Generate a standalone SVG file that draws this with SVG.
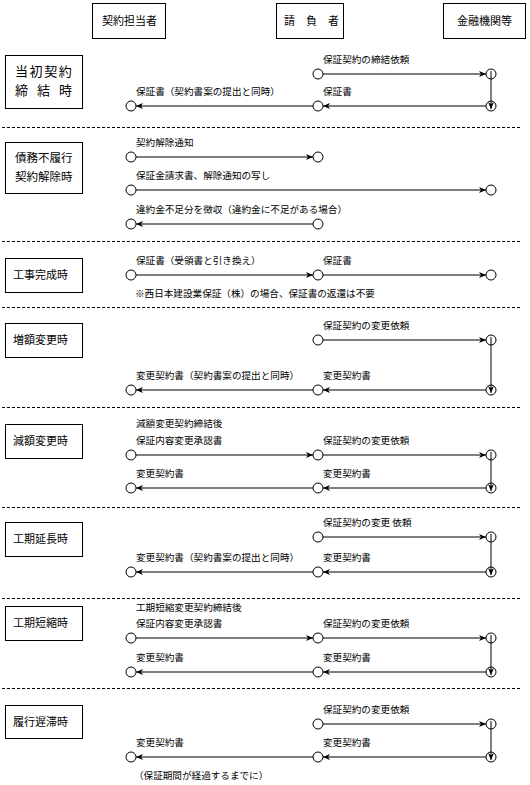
<svg xmlns="http://www.w3.org/2000/svg" width="530" height="785" viewBox="0 0 530 785">
<style>
text{font-family:"Noto Sans CJK JP","Noto Sans CJK SC",sans-serif;fill:#000}
.lb{font-size:9.6px}
.hd{font-size:11px}
.bx{fill:#fff;stroke:#000;stroke-width:1}
.pt{fill:#fff;stroke:#000;stroke-width:1}
.ar{stroke:#000;stroke-width:1;fill:none;marker-end:url(#ah)}
.dv{stroke:#000;stroke-width:1;stroke-dasharray:3 2}
</style>
<defs>
<marker id="ah" viewBox="0 0 7 6" refX="7" refY="3" markerWidth="7" markerHeight="6" orient="auto" markerUnits="userSpaceOnUse">
<path d="M0,0 L7,3 L0,6 L2,3 Z" fill="#000"/>
</marker>
</defs>
<rect width="530" height="785" fill="#fff"/>

<g id="dividers">
<line class="dv" x1="2" y1="127.5" x2="522" y2="127.5"/>
<line class="dv" x1="2" y1="241.5" x2="522" y2="241.5"/>
<line class="dv" x1="2" y1="307.5" x2="522" y2="307.5"/>
<line class="dv" x1="2" y1="407.5" x2="522" y2="407.5"/>
<line class="dv" x1="2" y1="507.5" x2="522" y2="507.5"/>
<line class="dv" x1="2" y1="598.5" x2="522" y2="598.5"/>
<line class="dv" x1="2" y1="688.5" x2="522" y2="688.5"/>
</g>

<g id="hdr-keiyaku"><rect class="bx" x="92.5" y="3.5" width="73" height="35"/><text class="hd" x="102" y="25">契約担当者</text></g>
<g id="hdr-ukeoi"><rect class="bx" x="276.5" y="3.5" width="67" height="35"/><text class="hd" x="284" y="25">請　負　者</text></g>
<g id="hdr-kinyu"><rect class="bx" x="443.5" y="3.5" width="82" height="35"/><text class="hd" x="457" y="25">金融機関等</text></g>

<g id="sec1"><rect class="bx" x="5.5" y="55.5" width="77" height="53"/><text x="15" y="76" font-size="13" letter-spacing="1.6">当初契約</text><text font-size="13" y="95"><tspan x="15">締</tspan><tspan x="37">結</tspan><tspan x="59">時</tspan></text></g>
<g id="sec2"><rect class="bx" x="5.5" y="142.5" width="77" height="51"/><text x="15" y="162" font-size="11.5">債務不履行</text><text x="15" y="181" font-size="11.5">契約解除時</text></g>
<g id="sec3"><rect class="bx" x="5.5" y="258.5" width="77" height="34"/><text class="hd" x="13" y="279">工事完成時</text></g>
<g id="sec4"><rect class="bx" x="5.5" y="323.5" width="77" height="34"/><text class="hd" x="13" y="344">増額変更時</text></g>
<g id="sec5"><rect class="bx" x="5.5" y="424.5" width="77" height="34"/><text class="hd" x="13" y="445">減額変更時</text></g>
<g id="sec6"><rect class="bx" x="5.5" y="522.5" width="77" height="34"/><text class="hd" x="13" y="543">工期延長時</text></g>
<g id="sec7"><rect class="bx" x="5.5" y="606.5" width="77" height="34"/><text class="hd" x="13" y="627">工期短縮時</text></g>
<g id="sec8"><rect class="bx" x="5.5" y="705.5" width="77" height="33"/><text class="hd" x="13" y="726">履行遅滞時</text></g>

<g id="points">
<g id="p1a"><circle class="pt" cx="318" cy="74" r="5"/></g>
<g id="p1b"><circle class="pt" cx="491" cy="74" r="5"/></g>
<g id="p1c"><circle class="pt" cx="131" cy="106" r="5"/></g>
<g id="p1d"><circle class="pt" cx="318" cy="106" r="5"/></g>
<g id="p1e"><circle class="pt" cx="491" cy="106" r="5"/></g>
<g id="p2a"><circle class="pt" cx="131" cy="157" r="5"/></g>
<g id="p2b"><circle class="pt" cx="318" cy="157" r="5"/></g>
<g id="p2c"><circle class="pt" cx="131" cy="190" r="5"/></g>
<g id="p2d"><circle class="pt" cx="491" cy="190" r="5"/></g>
<g id="p2e"><circle class="pt" cx="131" cy="224" r="5"/></g>
<g id="p2f"><circle class="pt" cx="318" cy="224" r="5"/></g>
<g id="p3a"><circle class="pt" cx="131" cy="275" r="5"/></g>
<g id="p3b"><circle class="pt" cx="318" cy="275" r="5"/></g>
<g id="p3c"><circle class="pt" cx="491" cy="275" r="5"/></g>
<g id="p4a"><circle class="pt" cx="318" cy="340" r="5"/></g>
<g id="p4b"><circle class="pt" cx="491" cy="340" r="5"/></g>
<g id="p4c"><circle class="pt" cx="131" cy="390" r="5"/></g>
<g id="p4d"><circle class="pt" cx="318" cy="390" r="5"/></g>
<g id="p4e"><circle class="pt" cx="491" cy="390" r="5"/></g>
<g id="p5a"><circle class="pt" cx="131" cy="455" r="5"/></g>
<g id="p5b"><circle class="pt" cx="318" cy="455" r="5"/></g>
<g id="p5c"><circle class="pt" cx="491" cy="455" r="5"/></g>
<g id="p5d"><circle class="pt" cx="131" cy="488" r="5"/></g>
<g id="p5e"><circle class="pt" cx="318" cy="488" r="5"/></g>
<g id="p5f"><circle class="pt" cx="491" cy="488" r="5"/></g>
<g id="p6a"><circle class="pt" cx="318" cy="537" r="5"/></g>
<g id="p6b"><circle class="pt" cx="491" cy="537" r="5"/></g>
<g id="p6c"><circle class="pt" cx="131" cy="572" r="5"/></g>
<g id="p6d"><circle class="pt" cx="318" cy="572" r="5"/></g>
<g id="p6e"><circle class="pt" cx="491" cy="572" r="5"/></g>
<g id="p7a"><circle class="pt" cx="131" cy="638" r="5"/></g>
<g id="p7b"><circle class="pt" cx="318" cy="638" r="5"/></g>
<g id="p7c"><circle class="pt" cx="491" cy="638" r="5"/></g>
<g id="p7d"><circle class="pt" cx="131" cy="672" r="5"/></g>
<g id="p7e"><circle class="pt" cx="318" cy="672" r="5"/></g>
<g id="p7f"><circle class="pt" cx="491" cy="672" r="5"/></g>
<g id="p8a"><circle class="pt" cx="318" cy="724" r="5"/></g>
<g id="p8b"><circle class="pt" cx="491" cy="724" r="5"/></g>
<g id="p8c"><circle class="pt" cx="131" cy="757" r="5"/></g>
<g id="p8d"><circle class="pt" cx="318" cy="757" r="5"/></g>
<g id="p8e"><circle class="pt" cx="491" cy="757" r="5"/></g>
</g>

<g id="connectors">
<line class="ar" x1="323" y1="74" x2="486" y2="74"/>
<line class="ar" x1="491" y1="71" x2="491" y2="109"/>
<line class="ar" x1="486" y1="106" x2="323" y2="106"/>
<line class="ar" x1="313" y1="106" x2="136" y2="106"/>

<line class="ar" x1="136" y1="157" x2="313" y2="157"/>
<line class="ar" x1="136" y1="190" x2="486" y2="190"/>
<line class="ar" x1="313" y1="224" x2="136" y2="224"/>

<line class="ar" x1="136" y1="275" x2="313" y2="275"/>
<line class="ar" x1="323" y1="275" x2="486" y2="275"/>

<line class="ar" x1="323" y1="340" x2="486" y2="340"/>
<line class="ar" x1="491" y1="337" x2="491" y2="393"/>
<line class="ar" x1="486" y1="390" x2="323" y2="390"/>
<line class="ar" x1="313" y1="390" x2="136" y2="390"/>

<line class="ar" x1="136" y1="455" x2="313" y2="455"/>
<line class="ar" x1="323" y1="455" x2="486" y2="455"/>
<line class="ar" x1="491" y1="452" x2="491" y2="491"/>
<line class="ar" x1="486" y1="488" x2="323" y2="488"/>
<line class="ar" x1="313" y1="488" x2="136" y2="488"/>

<line class="ar" x1="323" y1="537" x2="486" y2="537"/>
<line class="ar" x1="491" y1="534" x2="491" y2="575"/>
<line class="ar" x1="486" y1="572" x2="323" y2="572"/>
<line class="ar" x1="313" y1="572" x2="136" y2="572"/>

<line class="ar" x1="136" y1="638" x2="313" y2="638"/>
<line class="ar" x1="323" y1="638" x2="486" y2="638"/>
<line class="ar" x1="491" y1="635" x2="491" y2="675"/>
<line class="ar" x1="486" y1="672" x2="323" y2="672"/>
<line class="ar" x1="313" y1="672" x2="136" y2="672"/>

<line class="ar" x1="323" y1="724" x2="486" y2="724"/>
<line class="ar" x1="491" y1="721" x2="491" y2="760"/>
<line class="ar" x1="486" y1="757" x2="323" y2="757"/>
<line class="ar" x1="313" y1="757" x2="136" y2="757"/>
</g>

<g id="labels" class="lb">
<text class="lb" x="323" y="63">保証契約の締結依頼</text>
<text class="lb" x="136" y="95">保証書（契約書案の提出と同時）</text>
<text class="lb" x="323" y="95">保証書</text>

<text class="lb" x="136" y="146">契約解除通知</text>
<text class="lb" x="136" y="179">保証金請求書、解除通知の写し</text>
<text class="lb" x="136" y="213">違約金不足分を徴収（違約金に不足がある場合）</text>

<text class="lb" x="136" y="264">保証書（受領書と引き換え）</text>
<text class="lb" x="323" y="264">保証書</text>
<text class="lb" x="135" y="297">※西日本建設業保証（株）の場合、保証書の返還は不要</text>

<text class="lb" x="323" y="329">保証契約の変更依頼</text>
<text class="lb" x="136" y="379">変更契約書（契約書案の提出と同時）</text>
<text class="lb" x="323" y="379">変更契約書</text>

<text class="lb" x="136" y="427">減額変更契約締結後</text>
<text class="lb" x="136" y="444">保証内容変更承認書</text>
<text class="lb" x="323" y="444">保証契約の変更依頼</text>
<text class="lb" x="136" y="477">変更契約書</text>
<text class="lb" x="323" y="477">変更契約書</text>

<text class="lb" x="323" y="526">保証契約の変更 依頼</text>
<text class="lb" x="136" y="561">変更契約書（契約書案の提出と同時）</text>
<text class="lb" x="323" y="561">変更契約書</text>

<text class="lb" x="136" y="611">工期短縮変更契約締結後</text>
<text class="lb" x="136" y="627">保証内容変更承認書</text>
<text class="lb" x="323" y="627">保証契約の変更依頼</text>
<text class="lb" x="136" y="661">変更契約書</text>
<text class="lb" x="323" y="661">変更契約書</text>

<text class="lb" x="323" y="713">保証契約の変更依頼</text>
<text class="lb" x="136" y="746">変更契約書</text>
<text class="lb" x="323" y="746">変更契約書</text>
<text class="lb" x="134" y="779">（保証期間が経過するまでに）</text>
</g>
</svg>
